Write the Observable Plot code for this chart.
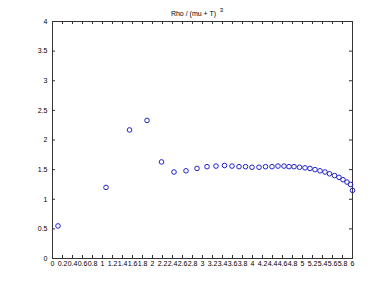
<!DOCTYPE html>
<html>
<head>
<meta charset="utf-8">
<script src="https://cdn.jsdelivr.net/npm/d3@7"></script>
<script src="https://cdn.jsdelivr.net/npm/@observablehq/plot@0.6"></script>
<style>
  html, body { margin: 0; padding: 0; background: #fff; }
  #chart svg { display: block; }
</style>
</head>
<body>
<div id="chart"></div>
<script>
const xValues = [0.11, 1.07, 1.54, 1.89, 2.18, 2.43, 2.67, 2.89, 3.09, 3.27, 3.44, 3.59, 3.73, 3.86, 3.99, 4.13, 4.26, 4.39, 4.51, 4.63, 4.73, 4.83, 4.94, 5.05, 5.15, 5.25, 5.35, 5.45, 5.54, 5.64, 5.73, 5.81, 5.89, 5.96, 6.0];
const yValues = [0.55, 1.20, 2.17, 2.33, 1.63, 1.46, 1.48, 1.52, 1.55, 1.56, 1.57, 1.56, 1.55, 1.55, 1.54, 1.54, 1.55, 1.55, 1.56, 1.56, 1.55, 1.55, 1.54, 1.53, 1.52, 1.50, 1.48, 1.46, 1.43, 1.40, 1.37, 1.33, 1.29, 1.25, 1.15];
const xTicks = d3.range(0, 31).map(i => +(i * 0.2).toFixed(1));
const yTicks = [0, 0.5, 1, 1.5, 2, 2.5, 3, 3.5, 4];
const titleText = "Rho / (mu + T)";
const titleExp = "3";

const points = xValues.map((x, i) => ({x, y: yValues[i]}));
const W = 390, H = 292;
const M = {top: 21, right: 38, bottom: 34, left: 52};
const fh = H - M.top - M.bottom;
const fw = W - M.left - M.right;
const tickLen = 3;

const chart = Plot.plot({
  width: W,
  height: H,
  marginTop: M.top,
  marginRight: M.right,
  marginBottom: M.bottom,
  marginLeft: M.left,
  style: {fontFamily: "'Liberation Sans', Arial, sans-serif", fontSize: "7px", background: "#fff", color: "#000"},
  x: {domain: [0, 6]},
  y: {domain: [0, 4]},
  marks: [
    Plot.frame({stroke: "#333", strokeWidth: 1}),
    Plot.tickX(xTicks, {x: d => d, insetTop: fh - tickLen, stroke: "#333"}),
    Plot.tickX(xTicks, {x: d => d, insetBottom: fh - tickLen, stroke: "#333"}),
    Plot.tickY(yTicks, {y: d => d, insetRight: fw - tickLen, stroke: "#333"}),
    Plot.tickY(yTicks, {y: d => d, insetLeft: fw - tickLen, stroke: "#333"}),
    Plot.axisX({ticks: xTicks, tickSize: 0, tickPadding: 3, tickFormat: d => String(d), label: null, fill: "#000"}),
    Plot.axisY({ticks: yTicks, tickSize: 0, tickPadding: 5, tickFormat: d => String(d), label: null, fill: "#000"}),
    Plot.dot(points, {x: "x", y: "y", r: 2.3, stroke: "#2222cc", strokeWidth: 1, fill: "none"}),
    Plot.text([titleText], {text: d => d, frameAnchor: "top", lineAnchor: "bottom", dx: -9, dy: -6, fontSize: 7, fill: "#000"}),
    Plot.text([titleExp], {text: d => d, frameAnchor: "top", lineAnchor: "bottom", dx: 19, dy: -10, fontSize: 6, fill: "#000"})
  ]
});
document.getElementById("chart").appendChild(chart);
</script>
</body>
</html>
